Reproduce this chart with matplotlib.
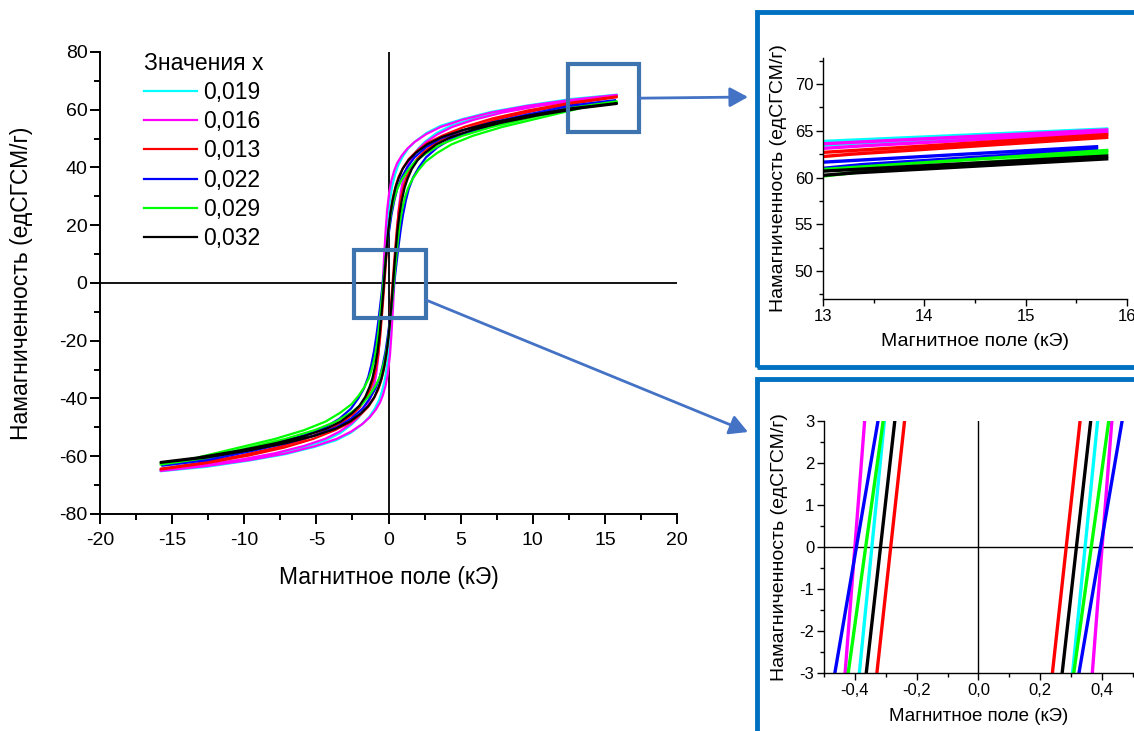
import numpy as np
import matplotlib
matplotlib.use("Agg")
import matplotlib.pyplot as plt
from matplotlib.patches import Rectangle, ConnectionPatch
from matplotlib.ticker import MultipleLocator, FuncFormatter

plt.rcParams["font.family"] = ["Liberation Sans", "DejaVu Sans"]
plt.rcParams["axes.unicode_minus"] = False

# legend labels (x values) and line colours
labels = ["0,019", "0,016", "0,013", "0,022", "0,029", "0,032"]
colors = ["#00ffff", "#ff00ff", "#ff0000", "#0000ff", "#00ff00", "#000000"]

# descending sweep of each loop (field in kOe, magnetization in emu/g),
# the ascending sweep is the point reflection of it
field_019 = [15.8, 12.65, 9.65, 7.15, 5.15, 3.65, 2.65, 1.85, 1.35, 0.95, 0.65, 0.45, 0.25, 0.1,
             -0.05, -0.145, -0.245, -0.345, -0.445, -0.545, -0.645, -0.8, -0.95, -1.15, -1.35,
             -1.65, -2.05, -2.55, -3.35, -4.35, -5.85, -7.85, -10.35, -13.35, -15.8]
mag_019 = [65.2, 63.7, 61.5, 59.3, 56.8, 54.5, 52.0, 49.0, 46.5, 43.5, 40.5, 37.5, 33.5, 28.5,
           21.0, 14.5, 7.4, 0.0, -7.4, -14.5, -21.0, -28.5, -33.5, -37.5, -40.5,
           -43.5, -46.5, -49.0, -52.0, -54.5, -56.8, -59.3, -61.5, -63.7, -64.9]

field_016 = [15.8, 12.6, 9.6, 7.1, 5.1, 3.6, 2.6, 1.8, 1.3, 0.9, 0.6, 0.4, 0.2, 0.05,
             -0.1, -0.2, -0.3, -0.4, -0.5, -0.6, -0.7, -0.85, -1.0, -1.2, -1.4,
             -1.7, -2.1, -2.6, -3.4, -4.4, -5.9, -7.9, -10.4, -13.4, -15.8]
mag_016 = [65.1, 63.4, 61.3, 59.0, 56.5, 54.0, 51.5, 48.8, 46.5, 44.0, 41.5, 39.0, 35.5, 31.5,
           25.0, 18.0, 9.5, 0.0, -9.5, -18.0, -25.0, -31.5, -35.5, -39.0, -41.5,
           -44.0, -46.5, -48.8, -51.5, -54.0, -56.5, -59.0, -61.3, -63.4, -64.8]

field_013 = [15.8, 12.72, 9.72, 7.22, 5.22, 3.72, 2.72, 1.92, 1.42, 1.02, 0.72, 0.52, 0.32, 0.17,
             0.016, -0.084, -0.184, -0.284, -0.384, -0.484, -0.584, -0.73, -0.88, -1.08, -1.28,
             -1.58, -1.98, -2.48, -3.28, -4.28, -5.78, -7.78, -10.28, -13.28, -15.8]
mag_013 = [64.6, 62.5, 59.8, 57.0, 54.0, 51.0, 48.5, 45.5, 43.0, 40.0, 37.0, 34.0, 30.0, 25.5,
           19.0, 13.0, 6.7, 0.0, -6.7, -13.0, -19.0, -25.5, -30.0, -34.0, -37.0,
           -40.0, -43.0, -45.5, -48.5, -51.0, -54.0, -57.0, -59.8, -62.5, -64.3]

field_022 = [15.7, 12.6, 9.6, 7.1, 5.1, 3.6, 2.6, 1.8, 1.3, 0.9, 0.6, 0.4, 0.2, 0.055,
             -0.095, -0.195, -0.295, -0.395, -0.495, -0.595, -0.695, -0.845, -1.0, -1.2, -1.4,
             -1.7, -2.1, -2.6, -3.4, -4.4, -5.9, -7.9, -10.4, -13.4, -15.7]
mag_022 = [63.3, 61.4, 58.3, 55.5, 52.8, 50.0, 47.0, 43.5, 40.0, 36.5, 32.5, 28.5, 23.5, 18.5,
           12.8, 8.6, 4.3, 0.0, -4.3, -8.6, -12.8, -18.5, -23.5, -28.5, -32.5,
           -36.5, -40.0, -43.5, -47.0, -50.0, -52.8, -55.5, -58.3, -61.4, -63.0]

field_029 = [15.8, 12.64, 9.64, 7.14, 5.14, 3.64, 2.64, 1.84, 1.34, 0.94, 0.64, 0.44, 0.24, 0.085,
             -0.065, -0.165, -0.265, -0.365, -0.465, -0.565, -0.665, -0.815, -0.965, -1.165, -1.365,
             -1.665, -2.065, -2.565, -3.365, -4.365, -5.865, -7.865, -10.365, -13.365, -15.8]
mag_029 = [62.9, 60.6, 57.0, 54.0, 51.0, 48.0, 45.0, 42.0, 39.0, 36.0, 33.0, 30.0, 26.0, 21.5,
           15.5, 10.5, 5.3, 0.0, -5.3, -10.5, -15.5, -21.5, -26.0, -30.0, -33.0,
           -36.0, -39.0, -42.0, -45.0, -48.0, -51.0, -54.0, -57.0, -60.6, -62.6]

field_032 = [15.8, 12.68, 9.68, 7.18, 5.18, 3.68, 2.68, 1.88, 1.38, 0.98, 0.68, 0.48, 0.28, 0.133,
             -0.017, -0.117, -0.217, -0.317, -0.417, -0.517, -0.617, -0.767, -0.917, -1.117, -1.317,
             -1.617, -2.017, -2.517, -3.317, -4.317, -5.817, -7.817, -10.317, -13.317, -15.8]
mag_032 = [62.3, 60.5, 58.0, 55.5, 53.0, 50.5, 48.0, 45.0, 42.5, 39.5, 36.0, 33.0, 28.5, 24.0,
           18.0, 12.5, 6.5, 0.0, -6.5, -12.5, -18.0, -24.0, -28.5, -33.0, -36.0,
           -39.5, -42.5, -45.0, -48.0, -50.5, -53.0, -55.5, -58.0, -60.5, -62.0]

fields = [field_019, field_016, field_013, field_022, field_029, field_032]
mags = [mag_019, mag_016, mag_013, mag_022, mag_029, mag_032]

XLABEL = "Магнитное поле (кЭ)"
YLABEL = "Намагниченность (едСГСМ/г)"
BOX_BLUE = "#3d74b0"
ARROW_BLUE = "#4472c4"
FRAME_BLUE = "#0070c0"


def full_loop(field, mag):
    h = np.asarray(field, dtype=float)
    m = np.asarray(mag, dtype=float)
    return np.concatenate([h, -h]), np.concatenate([m, -m])


def comma_fmt(decimals):
    return FuncFormatter(lambda v, pos: f"{v:.{decimals}f}".replace(".", ","))


def style_axes(ax, lw, major, minor, size):
    for side in ("top", "right"):
        ax.spines[side].set_visible(False)
    for side in ("left", "bottom"):
        ax.spines[side].set_linewidth(lw)
    ax.tick_params(which="major", direction="out", length=major, width=lw, labelsize=size, pad=2)
    ax.tick_params(which="minor", direction="out", length=minor, width=lw)


def draw_loops(ax, lw, with_labels=False):
    for field, mag, color, label in zip(fields, mags, colors, labels):
        x, y = full_loop(field, mag)
        ax.plot(x, y, color=color, lw=lw, label=label if with_labels else None)


fig = plt.figure(figsize=(11.34, 7.31), dpi=100)

# main hysteresis plot
ax = fig.add_axes([0.0882, 0.2969, 0.5088, 0.632])
draw_loops(ax, 1.6, with_labels=True)
ax.axvline(0, color="k", lw=1.3, zorder=1)
ax.axhline(0, color="k", lw=1.3, zorder=1)
ax.set_xlim(-20, 20)
ax.set_ylim(-80, 80)
ax.xaxis.set_major_locator(MultipleLocator(5))
ax.xaxis.set_minor_locator(MultipleLocator(2.5))
ax.yaxis.set_major_locator(MultipleLocator(20))
ax.yaxis.set_minor_locator(MultipleLocator(10))
style_axes(ax, 1.4, 7, 4, 14)
ax.tick_params(axis="x", which="major", pad=6)
ax.set_xlabel(XLABEL, fontsize=16.5)
ax.set_ylabel(YLABEL, fontsize=16.5)
ax.xaxis.set_label_coords(0.5, -0.112)
ax.yaxis.set_label_coords(-0.116, 0.5)
leg = ax.legend(title="Значения x", loc="upper left", bbox_to_anchor=(0.06, 1.02),
                frameon=False, fontsize=16.5, title_fontsize=16.5, handlelength=2.3,
                handletextpad=0.3, labelspacing=0.27, borderaxespad=0, alignment="left")

# zoom boxes on the main plot
ax.add_patch(Rectangle((12.45, 52.3), 4.95, 23.5, fill=False, ec=BOX_BLUE, lw=3, zorder=5))
ax.add_patch(Rectangle((-2.4, -12.1), 5.0, 23.5, fill=False, ec=BOX_BLUE, lw=3, zorder=5))

for start, tip in (((17.4, 64.0), (0.6596, 0.8673)), ((2.6, -5.9), (0.6596, 0.409))):
    con = ConnectionPatch(xyA=start, coordsA=ax.transData, xyB=tip, coordsB=fig.transFigure,
                          arrowstyle="-|>,head_length=0.55,head_width=0.3", mutation_scale=20,
                          color=ARROW_BLUE, lw=2)
    fig.add_artist(con)

# frames around the two zoomed views
fig.add_artist(Rectangle((0.6676, 0.498), 0.34, 0.486, transform=fig.transFigure,
                         fill=False, ec=FRAME_BLUE, lw=3.5))
fig.add_artist(Rectangle((0.6676, -0.02), 0.34, 0.5016, transform=fig.transFigure,
                         fill=False, ec=FRAME_BLUE, lw=3.5))

# high-field zoom
ax2 = fig.add_axes([0.7257, 0.591, 0.2681, 0.3297])
draw_loops(ax2, 2.4)
ax2.set_xlim(13, 16)
ax2.set_ylim(47, 72.8)
ax2.xaxis.set_major_locator(MultipleLocator(1))
ax2.xaxis.set_minor_locator(MultipleLocator(0.5))
ax2.yaxis.set_major_locator(MultipleLocator(5))
ax2.yaxis.set_minor_locator(MultipleLocator(2.5))
style_axes(ax2, 1.0, 5, 3, 12)
ax2.set_xlabel(XLABEL, fontsize=14)
ax2.set_ylabel(YLABEL, fontsize=14)
ax2.xaxis.set_label_coords(0.5, -0.141)
ax2.yaxis.set_label_coords(-0.118, 0.5)

# coercive-field zoom
ax3 = fig.add_axes([0.7266, 0.0793, 0.2725, 0.3447])
draw_loops(ax3, 2.4)
ax3.axvline(0, color="k", lw=1.0, zorder=1)
ax3.axhline(0, color="k", lw=1.0, zorder=1)
ax3.set_xlim(-0.5, 0.5)
ax3.set_ylim(-3, 3)
ax3.xaxis.set_major_locator(MultipleLocator(0.2))
ax3.xaxis.set_minor_locator(MultipleLocator(0.1))
ax3.xaxis.set_major_formatter(comma_fmt(1))
ax3.yaxis.set_major_locator(MultipleLocator(1))
ax3.yaxis.set_minor_locator(MultipleLocator(0.5))
style_axes(ax3, 1.0, 5, 3, 12)
ax3.set_xlabel(XLABEL, fontsize=13.5)
ax3.set_ylabel(YLABEL, fontsize=14)
ax3.xaxis.set_label_coords(0.5, -0.14)
ax3.yaxis.set_label_coords(-0.118, 0.5)

fig.savefig("out.png", dpi=100)
